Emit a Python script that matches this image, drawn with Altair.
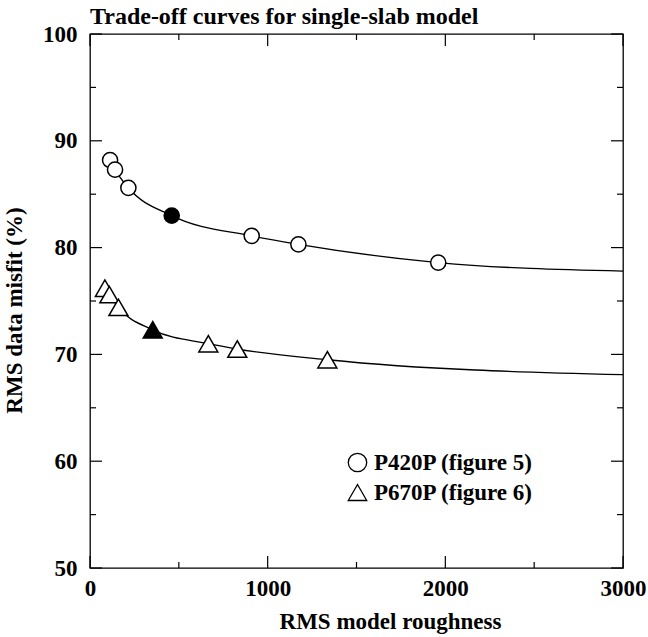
import altair as alt
import pandas as pd

# ---- data ----
series = ["P420P (figure 5)", "P670P (figure 6)"]

p420_x = [113, 141, 216, 460, 910, 1173, 1960]
p420_y = [88.2, 87.3, 85.6, 83.0, 81.1, 80.3, 78.6]
p420_state = ["open", "open", "open", "filled", "open", "open", "open"]
p420_curve_end_x = [3000]
p420_curve_end_y = [77.8]

p670_x = [84, 109, 160, 353, 666, 829, 1336]
p670_y = [76.2, 75.6, 74.4, 72.3, 71.0, 70.5, 69.5]
p670_state = ["open", "open", "open", "filled", "open", "open", "open"]
p670_curve_end_x = [3000]
p670_curve_end_y = [68.1]

x_major = [0, 1000, 2000, 3000]
x_minor = [500, 1500, 2500]
y_major = [50, 60, 70, 80, 90, 100]
y_minor = [55, 65, 75, 85, 95]

FONT = "Liberation Serif"
W, H = 533, 534
MAJ, MIN = 12, 6

pts = pd.DataFrame({
    "x": p420_x + p670_x,
    "y": p420_y + p670_y,
    "series": [series[0]] * len(p420_x) + [series[1]] * len(p670_x),
    "marker": ["c"] * len(p420_x) + ["t"] * len(p670_x),
    "state": p420_state + p670_state,
})
curve = pd.DataFrame({
    "x": p420_x + p420_curve_end_x + p670_x + p670_curve_end_x,
    "y": p420_y + p420_curve_end_y + p670_y + p670_curve_end_y,
    "series": [series[0]] * (len(p420_x) + 1) + [series[1]] * (len(p670_x) + 1),
})

xs = alt.Scale(domain=[0, 3000], nice=False, zero=False)
ys = alt.Scale(domain=[50, 100], nice=False, zero=False)

xaxis = alt.Axis(values=x_major, labelFlush=False, labelPadding=9, format="d",
                 title="RMS model roughness", titlePadding=10, titleX=300)
yaxis = alt.Axis(values=y_major, labelFlush=False, labelPadding=13, format="d",
                 title="RMS data misfit (%)", titlePadding=16, titleY=276)

lines = alt.Chart(curve).mark_line(color="black", strokeWidth=1.3, interpolate="monotone").encode(
    x=alt.X("x:Q", scale=xs, axis=xaxis),
    y=alt.Y("y:Q", scale=ys, axis=yaxis),
    detail="series:N",
)

points = alt.Chart(pts).mark_point(stroke="black", strokeWidth=1.5, opacity=1).encode(
    x=alt.X("x:Q", scale=xs),
    y=alt.Y("y:Q", scale=ys),
    shape=alt.Shape("series:N", scale=alt.Scale(domain=series, range=["circle", "triangle-up"]),
                    legend=alt.Legend(title=None, orient="none", legendX=256, legendY=417,
                                      labelFont=FONT, labelFontSize=23, labelFontWeight="bold",
                                      labelColor="black", symbolSize=340, symbolFillColor="white",
                                      symbolStrokeColor="black", symbolStrokeWidth=1.3,
                                      labelOffset=5, rowPadding=6, padding=0)),
    size=alt.Size("marker:N", scale=alt.Scale(domain=["c", "t"], range=[230, 360]), legend=None),
    fill=alt.Fill("state:N", scale=alt.Scale(domain=["open", "filled"], range=["white", "black"]), legend=None),
)

def tick_layer(vals, side, length):
    df = pd.DataFrame({"v": vals})
    base = alt.Chart(df).mark_rule(color="black", strokeWidth=1.2)
    if side == "bottom":
        return base.encode(x=alt.X("v:Q", scale=xs), y=alt.value(H), y2=alt.value(H - length))
    if side == "top":
        return base.encode(x=alt.X("v:Q", scale=xs), y=alt.value(0), y2=alt.value(length))
    if side == "left":
        return base.encode(y=alt.Y("v:Q", scale=ys), x=alt.value(0), x2=alt.value(length))
    return base.encode(y=alt.Y("v:Q", scale=ys), x=alt.value(W), x2=alt.value(W - length))

ticks = []
for side in ["bottom", "top"]:
    ticks.append(tick_layer(x_major, side, MAJ))
    ticks.append(tick_layer(x_minor, side, MIN))
for side in ["left", "right"]:
    ticks.append(tick_layer(y_major, side, MAJ))
    ticks.append(tick_layer(y_minor, side, MIN))

chart = alt.layer(lines, *ticks, points).properties(
    width=W, height=H,
    background="white",
    title=alt.TitleParams("Trade-off curves for single-slab model", anchor="start", frame="group",
                          font=FONT, fontSize=24, fontWeight="bold", color="black", offset=-6),
    autosize=alt.AutoSizeParams(type="none"),
    padding={"left": 90, "top": 34, "right": 25, "bottom": 69},
).configure_view(stroke="black", strokeWidth=1.3).configure_axis(
    labelFont=FONT, labelFontSize=23, labelFontWeight="bold", labelColor="black",
    titleFont=FONT, titleFontSize=23, titleFontWeight="bold", titleColor="black",
    domain=False, ticks=False, grid=False,
)

chart.save("out.html", embed_options={"renderer": "svg", "actions": False})
